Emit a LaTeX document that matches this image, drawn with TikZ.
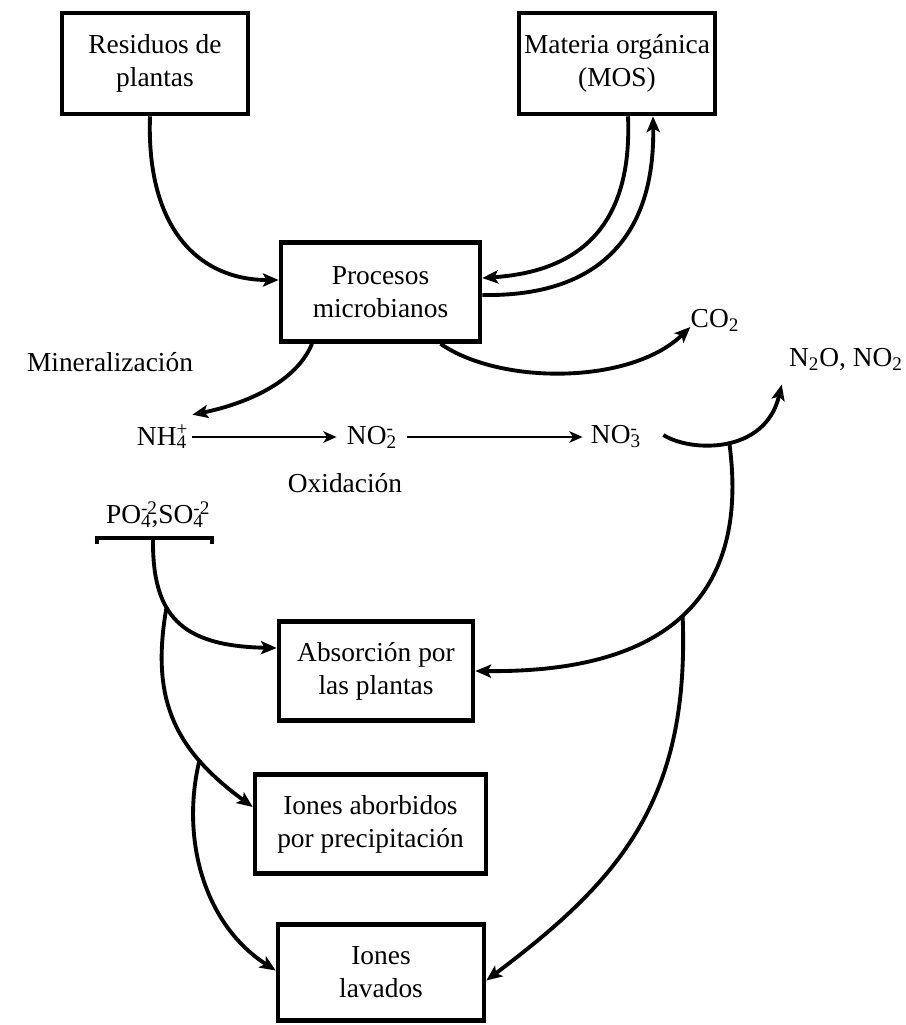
\documentclass[tikz,border=0pt]{standalone}
\usepackage{fontspec}
\setmainfont{Liberation Serif}
\usetikzlibrary{arrows.meta,calc}
\newcommand{\chm}[3]{#1\rlap{\textsuperscript{#2}}\textsubscript{#3}}
\begin{document}
\begin{tikzpicture}[x=0.02cm,y=-0.02cm,
  every node/.style={font=\fontsize{15.6}{18.7}\selectfont},
  box/.style={draw,line width=2.6pt,inner sep=0pt,align=center},
  lbl/.style={inner sep=0pt},
  conn/.style={line width=2.2pt,-{Stealth[length=9pt,width=7.5pt,inset=2pt]}},
  thinarr/.style={line width=1.5pt,-{Stealth[length=7.5pt,width=6.5pt,inset=2pt]}},
  barline/.style={line width=2.6pt}]
\fill[white] (0,0) rectangle (906,1025);
\useasboundingbox (0,0) rectangle (906,1025);
% boxes
\node[box,minimum width=3.72cm,minimum height=2.02cm] (res) at (155,63.5) {Residuos de\\plantas};
\node[box,minimum width=3.92cm,minimum height=2.02cm] (mos) at (617,63.5) {Materia orgánica\\(MOS)};
\node[box,minimum width=3.98cm,minimum height=1.98cm] (proc) at (380.5,292) {Procesos\\microbianos};
\node[box,minimum width=3.88cm,minimum height=1.98cm] (abs) at (376,671) {Absorción por\\las plantas};
\node[box,minimum width=4.62cm,minimum height=1.98cm] (ion) at (370.5,824) {Iones aborbidos\\por precipitación};
\node[box,minimum width=4.12cm,minimum height=1.92cm] (lav) at (381,972.5) {Iones\\lavados};
% labels
\node[lbl] (co2) at (715,320) {CO\textsubscript{2}};
\node[lbl] (min) at (110,362) {Mineralización};
\node[lbl] (n2o) at (846,360) {N\textsubscript{2}O, NO\textsubscript{2}};
\node[lbl] (nh4) at (162,437) {\chm{NH}{+}{4}};
\node[lbl] (no2) at (372,437) {\chm{NO}{-}{2}};
\node[lbl] (no3) at (616,437) {\chm{NO}{-}{3}};
\node[lbl] (oxi) at (345,483) {Oxidación};
\node[lbl] (po) at (155,515) {\chm{PO}{-2}{4},\chm{SO}{-2}{4}};
% bar under PO4, SO4
\coordinate (barL) at (97,538);
\coordinate (barR) at (212,538);
\coordinate (stem) at (153,538);
\draw[barline] ($(barL)+(0,6)$) -- (barL) -- (barR) -- ($(barR)+(0,6)$);
% nitrogen chain
\draw[thinarr] ([xshift=0.1cm]nh4.east) -- ([xshift=-0.2cm]no2.west);
\draw[thinarr] ([xshift=0.2cm]no2.east) -- ([xshift=-0.16cm]no3.west);
% upper connectors
\draw[conn] ([xshift=-0.1cm]res.south) .. controls (146,230) and (200,280) .. ([yshift=0.24cm]proc.west);
\draw[conn] ([xshift=0.22cm]mos.south) .. controls (633,235) and (570,272) .. ([yshift=0.28cm]proc.east);
\draw[conn] ([yshift=-0.06cm]proc.east) .. controls (600,297) and (655,235) .. ([xshift=0.72cm]mos.south);
\draw[conn] ([xshift=-1.37cm]proc.south) .. controls (295,385) and (240,405) .. ($(nh4.north east)+(5,-10)$);
\draw[conn] ([xshift=1.2cm]proc.south) .. controls (500,385) and (630,385) .. ([yshift=-0.14cm]co2.west);
% NO3 to N2O and down to plants / leaching
\draw[conn] ($(no3.east)+(22,-2)$) .. controls (690,452) and (765,455) .. ($(n2o.south west)+(-7,13)$) coordinate[pos=0.52] (dip);
\draw[conn] (dip) .. controls (758,650) and (590,672) .. (abs.east) coordinate[pos=0.41] (br2);
\draw[conn] (br2) .. controls (690,800) and (620,880) .. ([yshift=-0.16cm]lav.east);
% PO4, SO4 branches
\draw[conn] (stem) .. controls (152,615) and (180,646) .. ([yshift=0.46cm]abs.west) coordinate[pos=0.38] (br1);
\draw[conn] (br1) .. controls (150,700) and (175,750) .. ([yshift=0.34cm]ion.west) coordinate[pos=0.72] (br3);
\draw[conn] (br3) .. controls (180,840) and (205,925) .. ([yshift=0.04cm]lav.west);
\end{tikzpicture}
\end{document}
